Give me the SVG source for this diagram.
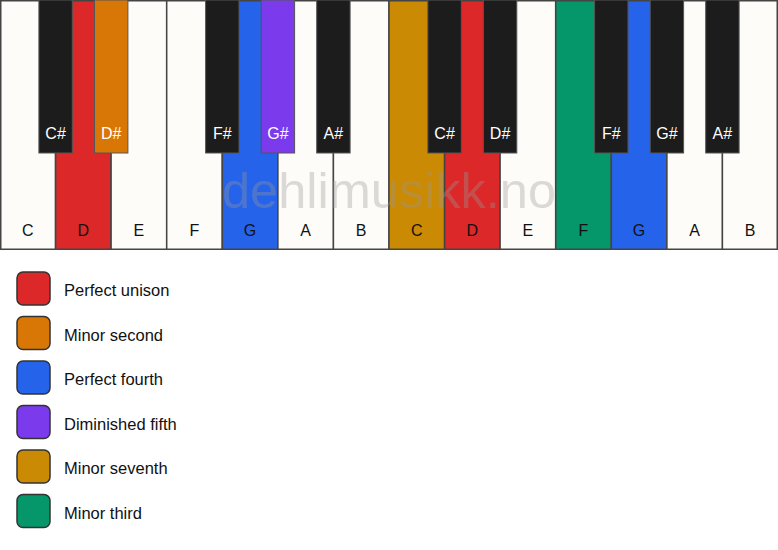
<svg xmlns="http://www.w3.org/2000/svg" width="778" height="550" viewBox="0 0 778 550">
<style>
.w{fill:#fdfcf8;stroke:#444;stroke-width:1.5}
.b{fill:#1c1c1c;stroke:#555;stroke-width:1}
.wl{font-family:"Liberation Sans",Arial,sans-serif;font-size:16px;fill:#111;text-anchor:middle}
.bl{font-family:"Liberation Sans",Arial,sans-serif;font-size:16px;fill:#fff;text-anchor:middle}
.lg{font-family:"Liberation Sans",Arial,sans-serif;font-size:16.5px;fill:#111}
.sw{stroke:#333;stroke-width:1.5}
.red{fill:#dc2828}.org{fill:#d97706}.blu{fill:#2563eb}.pur{fill:#7c3aed}.gld{fill:#ca8a04}.grn{fill:#059669}
</style>
<rect x="0" y="0" width="778" height="550" fill="#fff"/>
<g id="white-keys">
<g id="w-C1"><rect class="w" x="0.75" y="0.75" width="54.8" height="248.5"/><text class="wl" x="27.8" y="236">C</text></g>
<g id="w-D1"><rect class="w red" x="55.6" y="0.75" width="55.6" height="248.5"/><text class="wl" x="83.4" y="236">D</text></g>
<g id="w-E1"><rect class="w" x="111.1" y="0.75" width="55.6" height="248.5"/><text class="wl" x="138.9" y="236">E</text></g>
<g id="w-F1"><rect class="w" x="166.7" y="0.75" width="55.6" height="248.5"/><text class="wl" x="194.5" y="236">F</text></g>
<g id="w-G1"><rect class="w blu" x="222.3" y="0.75" width="55.6" height="248.5"/><text class="wl" x="250.1" y="236">G</text></g>
<g id="w-A1"><rect class="w" x="277.9" y="0.75" width="55.6" height="248.5"/><text class="wl" x="305.6" y="236">A</text></g>
<g id="w-B1"><rect class="w" x="333.4" y="0.75" width="55.6" height="248.5"/><text class="wl" x="361.2" y="236">B</text></g>
<g id="w-C2"><rect class="w gld" x="389" y="0.75" width="55.6" height="248.5"/><text class="wl" x="416.8" y="236">C</text></g>
<g id="w-D2"><rect class="w red" x="444.6" y="0.75" width="55.6" height="248.5"/><text class="wl" x="472.4" y="236">D</text></g>
<g id="w-E2"><rect class="w" x="500.1" y="0.75" width="55.6" height="248.5"/><text class="wl" x="527.9" y="236">E</text></g>
<g id="w-F2"><rect class="w grn" x="555.7" y="0.75" width="55.6" height="248.5"/><text class="wl" x="583.5" y="236">F</text></g>
<g id="w-G2"><rect class="w blu" x="611.3" y="0.75" width="55.6" height="248.5"/><text class="wl" x="639.1" y="236">G</text></g>
<g id="w-A2"><rect class="w" x="666.9" y="0.75" width="55.6" height="248.5"/><text class="wl" x="694.6" y="236">A</text></g>
<g id="w-B2"><rect class="w" x="722.4" y="0.75" width="54.85" height="248.5"/><text class="wl" x="750.2" y="236">B</text></g>
</g>
<text x="389" y="208" font-family="Liberation Sans,Arial,sans-serif" font-size="50.5" fill="#999" fill-opacity="0.35" text-anchor="middle">dehlimusikk.no</text>
<g id="black-keys">
<g id="b-Cs1"><rect class="b" x="38.9" y="0" width="33.4" height="153"/><text class="bl" x="55.6" y="139">C#</text></g>
<g id="b-Ds1"><rect class="b org" x="94.5" y="0" width="33.4" height="153"/><text class="bl" x="111.2" y="139">D#</text></g>
<g id="b-Fs1"><rect class="b" x="205.6" y="0" width="33.4" height="153"/><text class="bl" x="222.3" y="139">F#</text></g>
<g id="b-Gs1"><rect class="b pur" x="261.2" y="0" width="33.4" height="153"/><text class="bl" x="277.9" y="139">G#</text></g>
<g id="b-As1"><rect class="b" x="316.7" y="0" width="33.4" height="153"/><text class="bl" x="333.4" y="139">A#</text></g>
<g id="b-Cs2"><rect class="b" x="427.9" y="0" width="33.4" height="153"/><text class="bl" x="444.6" y="139">C#</text></g>
<g id="b-Ds2"><rect class="b" x="483.4" y="0" width="33.4" height="153"/><text class="bl" x="500.1" y="139">D#</text></g>
<g id="b-Fs2"><rect class="b" x="594.6" y="0" width="33.4" height="153"/><text class="bl" x="611.3" y="139">F#</text></g>
<g id="b-Gs2"><rect class="b" x="650.2" y="0" width="33.4" height="153"/><text class="bl" x="666.9" y="139">G#</text></g>
<g id="b-As2"><rect class="b" x="705.7" y="0" width="33.4" height="153"/><text class="bl" x="722.4" y="139">A#</text></g>
</g>
<g id="legend">
<g id="lg1"><rect class="sw red" x="17" y="272" width="33" height="33" rx="6"/><text class="lg" x="64" y="296">Perfect unison</text></g>
<g id="lg2"><rect class="sw org" x="17" y="316.5" width="33" height="33" rx="6"/><text class="lg" x="64" y="340.5">Minor second</text></g>
<g id="lg3"><rect class="sw blu" x="17" y="361" width="33" height="33" rx="6"/><text class="lg" x="64" y="385">Perfect fourth</text></g>
<g id="lg4"><rect class="sw pur" x="17" y="405.5" width="33" height="33" rx="6"/><text class="lg" x="64" y="429.5">Diminished fifth</text></g>
<g id="lg5"><rect class="sw gld" x="17" y="450" width="33" height="33" rx="6"/><text class="lg" x="64" y="474">Minor seventh</text></g>
<g id="lg6"><rect class="sw grn" x="17" y="494.5" width="33" height="33" rx="6"/><text class="lg" x="64" y="518.5">Minor third</text></g>
</g>
</svg>
